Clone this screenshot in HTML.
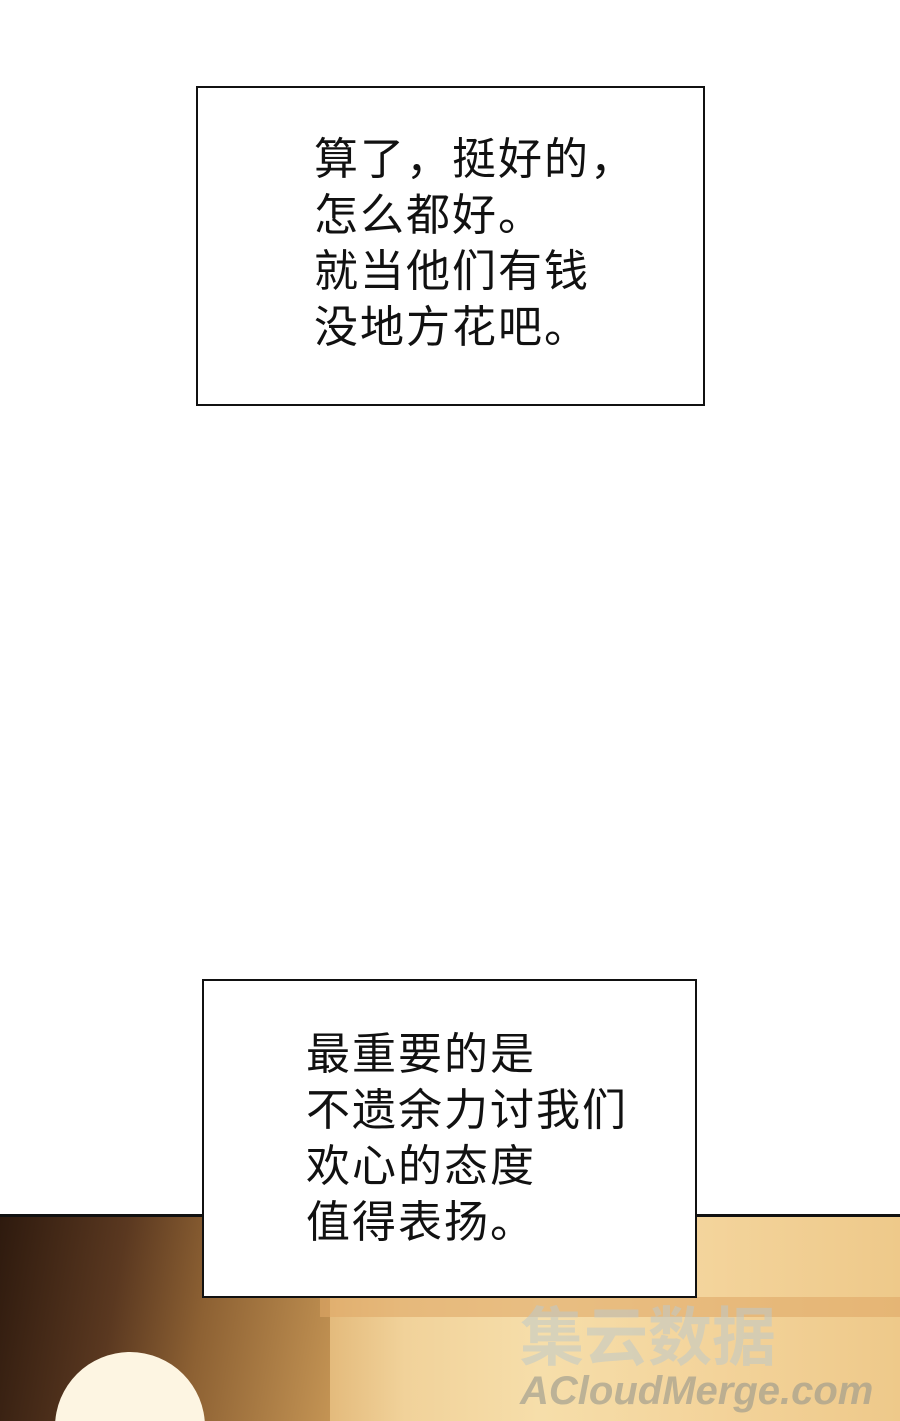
<!DOCTYPE html>
<html><head><meta charset="utf-8"><style>
html,body{margin:0;width:900px;height:1421px;overflow:hidden}
body{position:relative;background:#fff;font-family:"Liberation Sans","Noto Sans CJK SC",sans-serif}
.box{position:absolute;background:#fff;border:2.5px solid #111;box-sizing:border-box}
.t{position:absolute;font-size:44px;letter-spacing:2px;line-height:56px;color:#111;white-space:pre}
.panel{position:absolute;left:0;top:1214px;width:900px;height:207px;border-top:3px solid #111;box-sizing:border-box;overflow:hidden;
background:linear-gradient(90deg,#3a2414 0%,#6b4426 10%,#a8773f 20%,#d9a864 30%,#f1d29a 45%,#f6deaa 60%,#f3d39a 80%,#eec98a 100%)}
</style></head><body>
<div class="panel">
 <div style="position:absolute;left:0;top:0;width:330px;height:207px;background:linear-gradient(100deg,#2e1a0e 0%,#5a3820 35%,#8d6133 60%,#c49454 100%)"></div>
 <div style="position:absolute;left:55px;top:135px;width:150px;height:140px;border-radius:75px 75px 0 0;background:#fdf5e2"></div>
 <div style="position:absolute;left:320px;top:80px;width:580px;height:20px;background:#e0a868;opacity:.6"></div>
 <div style="position:absolute;left:520px;top:70px;font:bold 64px 'Liberation Sans','Noto Sans CJK SC',sans-serif;color:rgba(190,200,200,.55)">集云数据</div>
 <div style="position:absolute;left:520px;top:152px;font:italic bold 40px 'Liberation Sans',sans-serif;color:rgba(150,150,140,.6)">ACloudMerge.com</div>
</div>
<div class="box" style="left:196px;top:86px;width:509px;height:320px"></div>
<div class="t" style="left:314px;top:132px">算了，挺好的，
怎么都好。
就当他们有钱
没地方花吧。</div>
<div class="box" style="left:202px;top:979px;width:495px;height:319px"></div>
<div class="t" style="left:306px;top:1027px">最重要的是
不遗余力讨我们
欢心的态度
值得表扬。</div>
</body></html>
